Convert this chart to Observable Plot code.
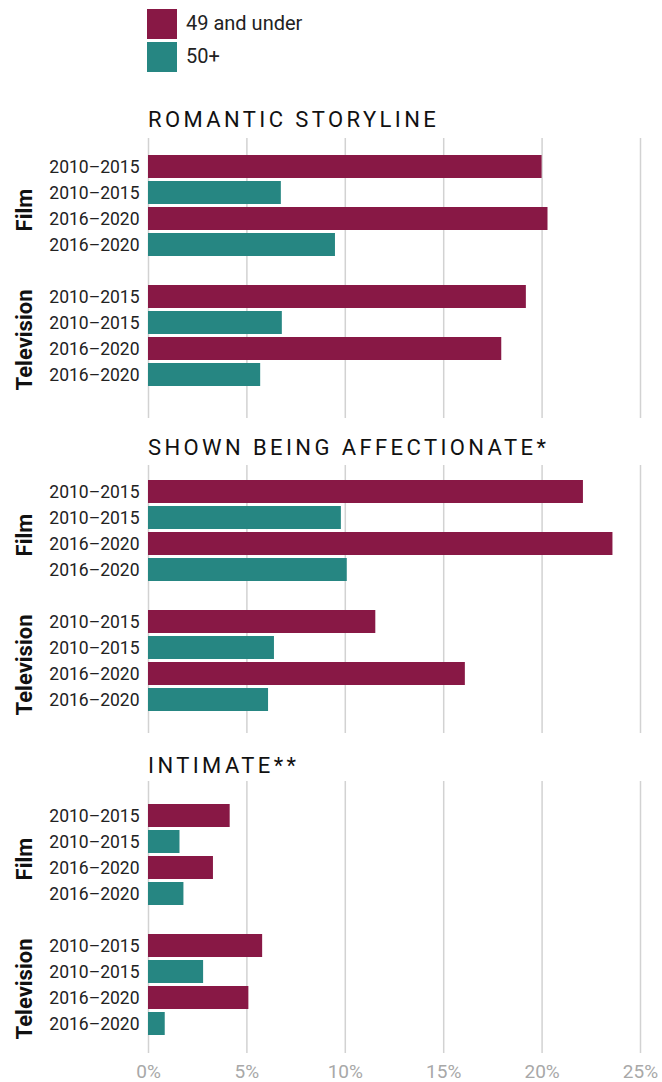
<!DOCTYPE html>
<html>
<head>
<meta charset="utf-8">
<script src="https://cdn.jsdelivr.net/npm/d3@7"></script>
<script src="https://cdn.jsdelivr.net/npm/@observablehq/plot@0.6"></script>
<style>
  body { margin: 0; background: #fff; font-family: Roboto, sans-serif; }
  #root { position: relative; width: 662px; height: 1082px; overflow: hidden; }
  .abs { position: absolute; }
  .title { font-size: 22px; line-height: 22px; letter-spacing: 3.4px; color: #111; white-space: nowrap; }
  .sw { width: 30px; height: 30px; }
  .lg { font-size: 20px; line-height: 20px; color: #222; white-space: nowrap; }
  svg { display: block; }
</style>
</head>
<body>
<div id="root"></div>
<script>
// ---- data ----
const metrics = ["ROMANTIC STORYLINE", "SHOWN BEING AFFECTIONATE*", "INTIMATE**"];
const media = ["Film", "Television"];
const periods = ["2010–2015", "2016–2020"];
const ages = ["49 and under", "50+"];
const ageColors = ["#881845", "#268682"];
// order per medium: [2010–2015 49-, 2010–2015 50+, 2016–2020 49-, 2016–2020 50+]
const romantic     = [20.0, 6.75, 20.3, 9.5,  19.2, 6.8, 17.95, 5.7];
const affectionate = [22.1, 9.8, 23.6, 10.1,  11.55, 6.4, 16.1, 6.1];
const intimate     = [4.15, 1.6, 3.3, 1.8,    5.8, 2.8, 5.1, 0.85];
const xTicks = [0, 5, 10, 15, 20, 25];

const seriesByMetric = [romantic, affectionate, intimate];

// ---- layout (pixel geometry only) ----
const layout = [
  {top: 100, height: 318, mt: 38, mb: 0,  it: 12.35, ib: 26.6,  base: 127},
  {top: 418, height: 315, mt: 47, mb: 0,  it: 10.35, ib: 16.6,  base: 455},
  {top: 733, height: 349, mt: 48, mb: 29, it: 18.35, ib: 12.65, base: 773}
];

const root = document.getElementById("root");

// legend
ages.forEach((a, i) => {
  const sw = document.createElement("div");
  sw.className = "abs sw";
  sw.style.left = "147px";
  sw.style.top = (9 + i * 33) + "px";
  sw.style.background = ageColors[i];
  root.appendChild(sw);
  const t = document.createElement("div");
  t.className = "abs lg";
  t.textContent = a;
  t.style.left = "186px";
  t.style.top = (30 - 17 + i * 33) + "px";
  root.appendChild(t);
});

const keyOf = (m, p, a) => `${m}|${p}|${a}`;
const yDomain = [];
media.forEach((m, mi) => {
  periods.forEach(p => ages.forEach(a => yDomain.push(keyOf(m, p, a))));
  if (mi === 0) yDomain.push("gap");
});
const tickKeys = yDomain.filter(k => k !== "gap");

metrics.forEach((metric, k) => {
  const L = layout[k];
  const vals = seriesByMetric[k];
  const rows = [];
  media.forEach((m, mi) => periods.forEach((p, pi) => ages.forEach((a, ai) => {
    rows.push({key: keyOf(m, p, a), medium: m, period: p, age: a, value: vals[mi * 4 + pi * 2 + ai]});
  })));
  const labels = media.map(m => ({medium: m, key: keyOf(m, periods[0], ages[1])}));
  const last = k === metrics.length - 1;

  const chart = Plot.plot({
    width: 662,
    height: L.height,
    marginLeft: 148,
    marginRight: 22,
    marginTop: L.mt,
    marginBottom: L.mb,
    style: {fontFamily: "Roboto, sans-serif", background: "transparent", overflow: "visible"},
    x: {domain: [0, 25], axis: null},
    y: {domain: yDomain, padding: 0.1, insetTop: L.it, insetBottom: L.ib},
    color: {domain: ages, range: ageColors},
    marks: [
      Plot.ruleX(xTicks, {stroke: "#d2d2d2", strokeWidth: 1.5}),
      Plot.barX(rows, {x: "value", y: "key", fill: "age"}),
      Plot.axisY({ticks: tickKeys, tickSize: 0, tickPadding: 9, tickFormat: d => d.split("|")[1], fontSize: 17.5, fill: "#222", label: null}),
      Plot.text(labels, {y: "key", text: "medium", frameAnchor: "left", textAnchor: "middle", rotate: -90, dx: -124, dy: 17, fontSize: 22, fontWeight: "bold", fill: "#111"}),
      last ? Plot.axisX({ticks: xTicks, tickFormat: d => d + "%", tickSize: 0, tickPadding: 11, fontSize: 19, fill: "#a8a8a8", label: null}) : null
    ]
  });
  chart.classList.add("abs");
  chart.style.left = "0px";
  chart.style.top = L.top + "px";
  root.appendChild(chart);

  const t = document.createElement("div");
  t.className = "abs title";
  t.textContent = metric;
  t.style.left = "148px";
  t.style.top = (L.base - 18.5) + "px";
  root.appendChild(t);
});
</script>
</body>
</html>
